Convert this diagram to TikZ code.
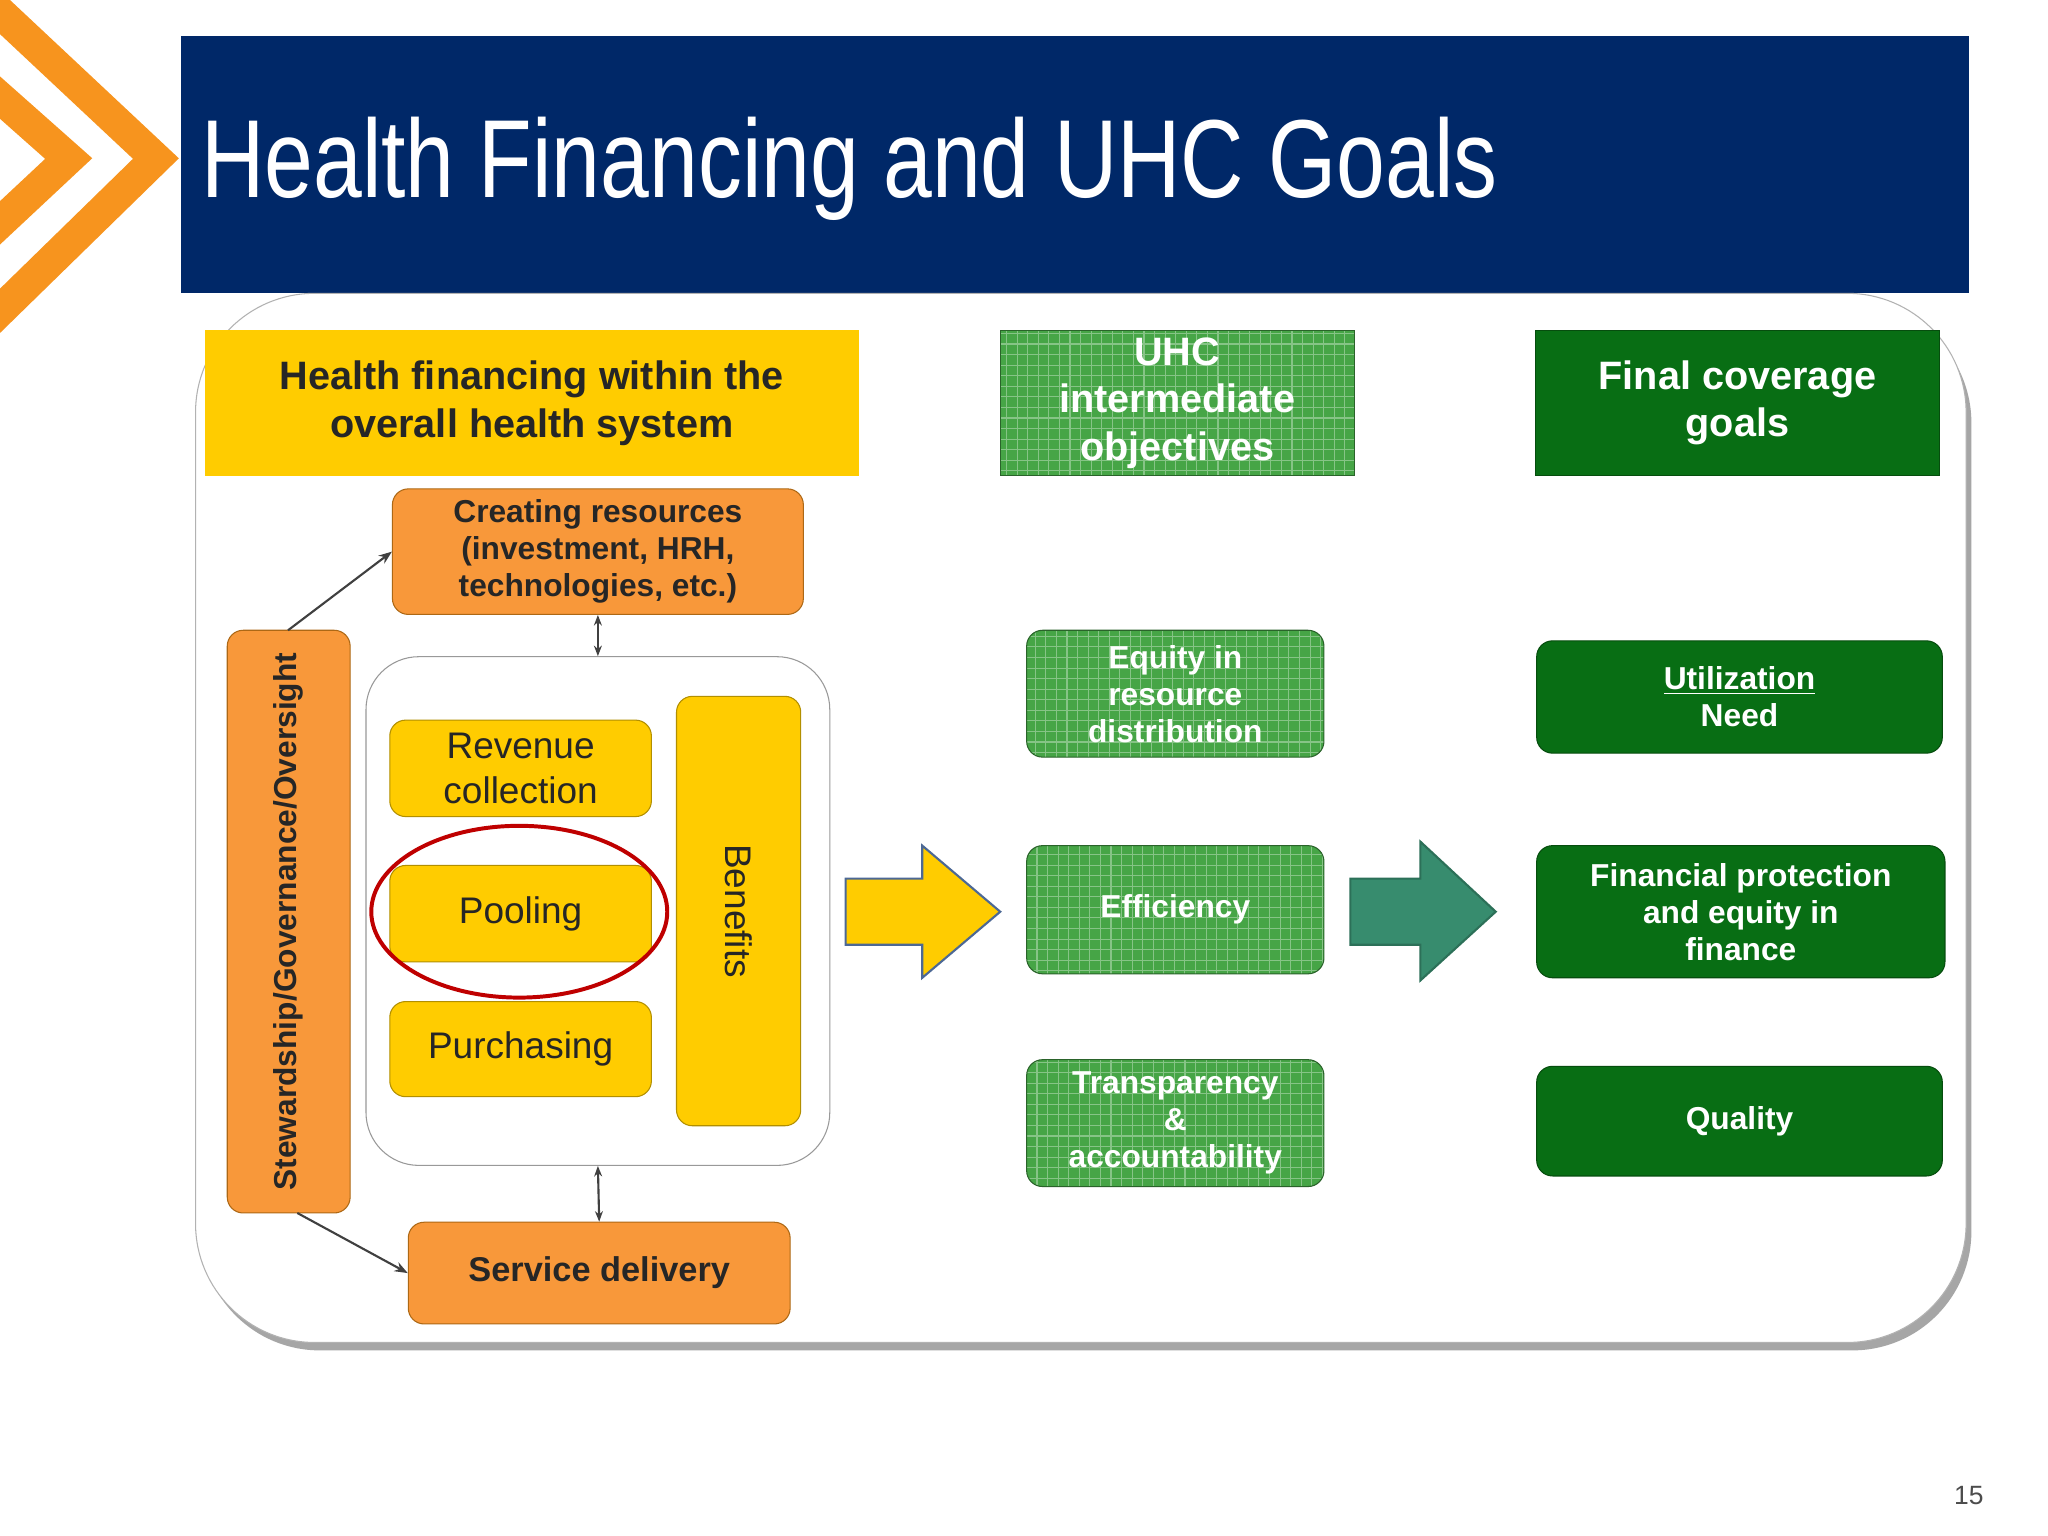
\documentclass[tikz,border=0pt]{standalone}
\usepackage{fontspec}
\setmainfont{Liberation Sans}
\usetikzlibrary{arrows.meta,shapes.geometric}
\definecolor{navy}{RGB}{0,40,104}
\definecolor{orng}{RGB}{247,148,30}
\definecolor{bxor}{RGB}{248,152,58}
\definecolor{yel}{RGB}{255,204,0}
\definecolor{lgr}{RGB}{70,165,70}
\definecolor{dgr}{RGB}{8,110,20}
\definecolor{teal}{RGB}{55,140,110}
\tikzset{
 every node/.style={font=\bfseries, align=center, inner sep=0pt},
 orbox/.style={fill=bxor, draw=orng!70!black, rounded corners=6pt, text=black!85},
 ybox/.style={fill=yel, draw=yel!70!black, rounded corners=6pt, text=black!85},
 gbox/.style={fill=lgr, draw=lgr!60!black, rounded corners=6pt, text=white,
   path picture={\draw[white, opacity=.35, line width=.4pt, step=4pt] (path picture bounding box.south west) grid (path picture bounding box.north east);}},
 dbox/.style={fill=dgr, draw=dgr!70!black, rounded corners=6pt, text=white},
 con/.style={draw=black!75, line width=0.8pt},
}
\newcommand{\bx}[7]{\node[#6, minimum width={(#4-#2)*0.5pt}, minimum height={(#5-#3)*0.5pt}] (#1) at ({(#2+#4)/2},{(#3+#5)/2}) {#7};}
\begin{document}
\begin{tikzpicture}[x=0.5pt,y=-0.5pt]
\useasboundingbox (0,0) rectangle (1550,1162);
\fill[white] (0,0) rectangle (1550,1162);
% chevrons
\draw[orng, line width=12pt, line join=miter] (-10,0) -- (118,120) -- (-10,245);
\draw[orng, line width=12pt, line join=miter] (-10,65) -- (52,120) -- (-10,178);
% banner
\fill[navy] (137,27) rectangle (1490,222);
\node[font=\fontsize{42}{50}\selectfont, text=white, anchor=west, xscale=0.79] (title) at (152,128) {Health Financing and UHC Goals};
% panel
\fill[black!35, rounded corners=45pt] (152,230) rectangle (1492,1022);
\draw[fill=white, draw=black!30, rounded corners=45pt] (148,222) rectangle (1488,1016);
% headers
\bx{hf}{155}{250}{650}{360}{fill=yel, text=black!85, font=\bfseries\fontsize{15}{18}\selectfont}{Health financing within the\\overall health system}
\bx{uhc}{757}{250}{1025}{360}{gbox, rounded corners=0pt, font=\bfseries\fontsize{15}{18}\selectfont}{UHC\\intermediate\\objectives}
\bx{fcg}{1162}{250}{1468}{360}{dbox, rounded corners=0pt, font=\bfseries\fontsize{15}{18}\selectfont}{Final coverage\\goals}
% left system
\bx{cr}{297}{370}{608}{465}{orbox, font=\bfseries\fontsize{12}{14}\selectfont}{Creating resources\\(investment, HRH,\\technologies, etc.)}
\bx{st}{172}{477}{265}{918}{orbox}{}
\node[rotate=90, font=\bfseries\fontsize{12}{14}\selectfont, text=black!85] at (st) {Stewardship/Governance/Oversight};
\bx{fr}{277}{497}{628}{882}{draw=black!40, rounded corners=20pt}{}
\bx{rc}{295}{545}{493}{618}{ybox, font=\fontsize{14}{17}\selectfont}{Revenue\\collection}
\bx{po}{295}{655}{493}{728}{ybox, font=\fontsize{14}{17}\selectfont}{Pooling}
\bx{pu}{295}{758}{493}{830}{ybox, font=\fontsize{14}{17}\selectfont}{Purchasing}
\bx{be}{512}{527}{606}{852}{ybox}{}
\node[rotate=-90, font=\fontsize{14}{17}\selectfont, text=black!85] at (be) {Benefits};
\node[draw=red!75!black, line width=1.5pt, ellipse, minimum width=112pt, minimum height=65pt] (ring) at (393,690) {};
\bx{sd}{309}{925}{598}{1002}{orbox, font=\bfseries\fontsize{13}{16}\selectfont}{Service delivery}
\draw[con, {Stealth[length=4pt]}-{Stealth[length=4pt]}] (cr.south) -- (fr.north);
\draw[con, {Stealth[length=4pt]}-{Stealth[length=4pt]}] (fr.south) -- (sd.north);
\draw[con, -{Stealth[length=5pt]}] (218,477) -- (cr.west);
\draw[con, -{Stealth[length=5pt]}] (225,918) -- (sd.west);
% block arrows
\draw[fill=yel, draw=navy!70, line width=0.8pt] (640,665) -- (698,665) -- (698,640) -- (757,690) -- (698,740) -- (698,715) -- (640,715) -- cycle;
\draw[fill=teal, draw=teal!80!black, line width=0.8pt] (1022,665) -- (1075,665) -- (1075,637) -- (1132,690) -- (1075,742) -- (1075,715) -- (1022,715) -- cycle;
% middle
\bx{eq}{777}{477}{1002}{573}{gbox, font=\bfseries\fontsize{12}{14}\selectfont}{Equity in\\resource\\distribution}
\bx{ef}{777}{640}{1002}{737}{gbox, font=\bfseries\fontsize{12}{14}\selectfont}{Efficiency}
\bx{tr}{777}{802}{1002}{898}{gbox, font=\bfseries\fontsize{12}{14}\selectfont}{Transparency\\\&\\accountability}
% right
\bx{ut}{1163}{485}{1470}{570}{dbox, font=\bfseries\fontsize{12}{14}\selectfont}{\underline{Utilization}\\Need}
\bx{fp}{1163}{640}{1472}{740}{dbox, font=\bfseries\fontsize{12}{14}\selectfont}{Financial protection\\and equity in\\finance}
\bx{qu}{1163}{807}{1470}{890}{dbox, font=\bfseries\fontsize{12}{14}\selectfont}{Quality}
\node[font=\fontsize{10}{12}\selectfont, text=black!70] (pg) at (1490,1132) {15};
\end{tikzpicture}
\end{document}
